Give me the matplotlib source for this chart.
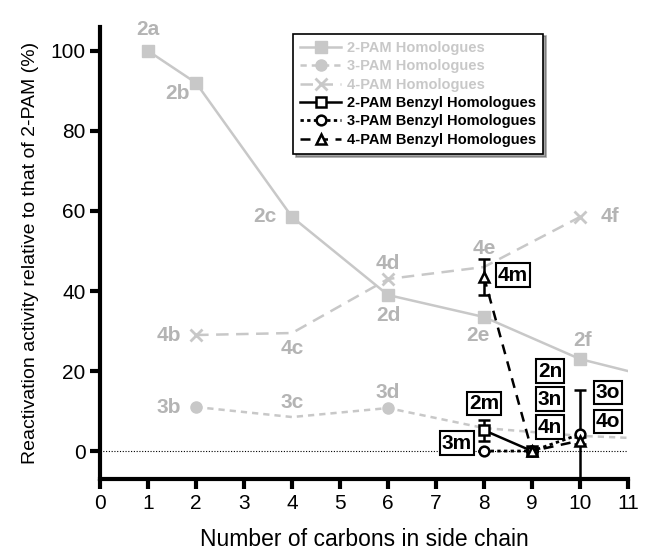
import numpy as np
import matplotlib
matplotlib.use('Agg')
import matplotlib.pyplot as plt
from matplotlib.lines import Line2D

plt.rcParams['font.family'] = ['Liberation Sans', 'DejaVu Sans']

# grey series (parent homologues)
x_2pam = [1, 2, 4, 6, 8, 10, 11]
y_2pam = [100, 92, 58.5, 39, 33.5, 23, 20]
x_3pam = [2, 4, 6, 8, 10, 11]
y_3pam = [11, 8.5, 10.75, 5.75, 3.8, 3.3]
x_4pam = [2, 4, 6, 8, 10]
y_4pam = [29, 29.5, 43, 46, 58.5]

# black series (benzyl homologues)
x_2bz = [8, 9]
y_2bz = [5.2, 0]
e_2bz = [2.6, 0]
x_3bz = [8, 9, 10]
y_3bz = [0, 0, 4.2]
e_3bz = [0, 0, 11]
x_4bz = [8, 9, 10]
y_4bz = [43.5, 0, 2.6]
e_4bz = [4.6, 0, 0.8]

labels_2pam = ['2a', '2b', '2c', '2d', '2e', '2f']
labels_3pam = ['3b', '3c', '3d']
labels_4pam = ['4b', '4c', '4d', '4e', '4f']
labels_bz = ['2m', '3m', '4m', '2n', '3n', '4n', '3o', '4o']

legend_names = ['2-PAM Homologues', '3-PAM Homologues', '4-PAM Homologues',
                '2-PAM Benzyl Homologues', '3-PAM Benzyl Homologues',
                '4-PAM Benzyl Homologues']

grey = '#c8c8c8'
grey_txt = '#b4b4b4'

fig = plt.figure(figsize=(6.46, 5.5), dpi=100)
ax = fig.add_axes([0.155, 0.129, 0.817, 0.822])

ax.axhline(0, color='black', lw=0.8, ls=(0, (1, 1.5)), zorder=1)

ax.plot(x_2pam, y_2pam, color=grey, lw=1.8, marker='s', ms=8, markevery=[0, 1, 2, 3, 4, 5], zorder=2)
ax.plot(x_3pam, y_3pam, color=grey, lw=1.8, ls=(0, (2.5, 2)), marker='o', ms=8, markevery=[0, 2], zorder=2)
ax.plot(x_4pam, y_4pam, color=grey, lw=1.8, ls=(0, (5, 3)), marker='x', ms=8, mew=2, markevery=[0, 2, 4], zorder=2)

ax.errorbar(x_2bz, y_2bz, yerr=e_2bz, color='black', lw=1.8, marker='s', ms=7, mfc='white', mew=1.8,
            capsize=4, capthick=1.8, elinewidth=1.8, zorder=4)
ax.errorbar(x_3bz, y_3bz, yerr=e_3bz, color='black', lw=2, ls=(0, (1.2, 1.2)), marker='o', ms=7, mfc='white', mew=1.8,
            capsize=4, capthick=1.8, elinewidth=1.8, zorder=4)
ax.errorbar(x_4bz, y_4bz, yerr=e_4bz, color='black', lw=1.8, ls=(0, (4, 3)), marker='^', ms=7, mfc='white', mew=1.8,
            capsize=4, capthick=1.8, elinewidth=1.8, zorder=4)

# grey labels, offsets in pixels
off_2 = [(0, 21), (-19, -11), (-27, 0), (0, -20), (-6, -18), (3, 19)]
for i, t in enumerate(labels_2pam):
    ax.annotate(t, (x_2pam[i], y_2pam[i]), xytext=off_2[i], textcoords='offset pixels',
                ha='center', va='center', fontsize=15, fontweight='bold', color=grey_txt)
off_3 = [(-27, 0), (0, 15), (0, 16)]
for i, t in enumerate(labels_3pam):
    ax.annotate(t, (x_3pam[i], y_3pam[i]), xytext=off_3[i], textcoords='offset pixels',
                ha='center', va='center', fontsize=15, fontweight='bold', color=grey_txt)
off_4 = [(-27, 0), (0, -15), (0, 16), (0, 19), (30, 0)]
for i, t in enumerate(labels_4pam):
    ax.annotate(t, (x_4pam[i], y_4pam[i]), xytext=off_4[i], textcoords='offset pixels',
                ha='center', va='center', fontsize=15, fontweight='bold', color=grey_txt)

# boxed labels for benzyl compounds
anchors = [(x_2bz[0], y_2bz[0]), (x_3bz[0], y_3bz[0]), (x_4bz[0], y_4bz[0]),
           (x_2bz[1], y_2bz[1]), (x_2bz[1], y_2bz[1]), (x_2bz[1], y_2bz[1]),
           (x_3bz[2], y_3bz[2]), (x_3bz[2], y_3bz[2])]
off_bz = [(0, 27), (-27, 8), (29, 2), (18, 80), (18, 52), (18, 24), (28, 42), (28, 13)]
for i, t in enumerate(labels_bz):
    ax.annotate(t, anchors[i], xytext=off_bz[i], textcoords='offset pixels',
                ha='center', va='center', fontsize=15, fontweight='bold', color='black', zorder=6,
                bbox=dict(boxstyle='square,pad=0.1', fc='white', ec='black', lw=1.5))

ax.set_xlim(0, 11)
ax.set_ylim(-7, 106)
ax.set_xticks(range(0, 12))
ax.set_yticks([0, 20, 40, 60, 80, 100])
for s in ['top', 'right']:
    ax.spines[s].set_visible(False)
for s in ['left', 'bottom']:
    ax.spines[s].set_linewidth(3)
ax.tick_params(width=3, length=7, labelsize=15, direction='out')
ax.set_xlabel('Number of carbons in side chain', fontsize=16.5, labelpad=11)
ax.set_ylabel('Reactivation activity relative to that of 2-PAM (%)', fontsize=14, labelpad=8)

handles = [
    Line2D([], [], color=grey, lw=1.8, marker='s', ms=8),
    Line2D([], [], color=grey, lw=1.8, ls=(0, (2.5, 2)), marker='o', ms=8),
    Line2D([], [], color=grey, lw=1.8, ls=(0, (5, 3)), marker='x', ms=8, mew=2),
    Line2D([], [], color='black', lw=1.8, marker='s', ms=7, mfc='white', mew=1.8),
    Line2D([], [], color='black', lw=2, ls=(0, (1.2, 1.2)), marker='o', ms=7, mfc='white', mew=1.8),
    Line2D([], [], color='black', lw=1.8, ls=(0, (4, 3)), marker='^', ms=7, mfc='white', mew=1.8),
]
leg = fig.legend(handles, legend_names, loc='upper left', bbox_to_anchor=(0.442, 0.952),
                 prop={'weight': 'bold', 'size': 10.5}, frameon=True, fancybox=False, shadow=True,
                 edgecolor='black', handlelength=2.8, handletextpad=0.4, labelspacing=0.3,
                 borderpad=0.5, labelcolor=[grey, grey, grey, 'black', 'black', 'black'])
leg.get_frame().set_linewidth(1.2)

fig.savefig('out.png', dpi=100)
